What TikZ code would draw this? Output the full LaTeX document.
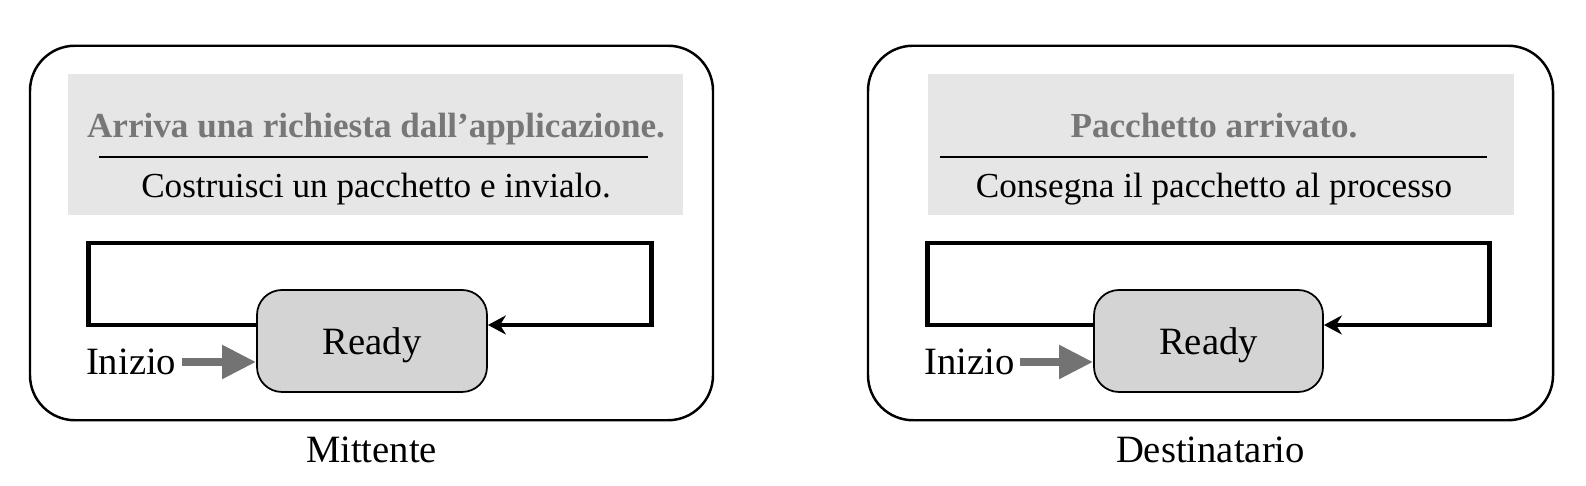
\documentclass[tikz,border=0pt]{standalone}
\usepackage{fontspec}
\setmainfont{Liberation Serif}
\usetikzlibrary{positioning,arrows.meta}

\definecolor{panelgray}{HTML}{E6E6E6}
\definecolor{stategray}{HTML}{D4D4D4}
\definecolor{titlegray}{HTML}{777777}
\definecolor{startgray}{HTML}{737373}

\tikzset{
  sysbox/.style={draw, line width=0.7pt, rounded corners=4.5mm, minimum width=6.83cm, minimum height=3.745cm},
  panelbox/.style={fill=panelgray, minimum height=1.41cm, inner sep=0},
  condtext/.style={font=\fontsize{10}{12}\selectfont\bfseries, text=titlegray, anchor=base, inner sep=0},
  acttext/.style={font=\fontsize{10}{12}\selectfont, anchor=base, inner sep=0},
  statebox/.style={draw, fill=stategray, line width=0.5pt, rounded corners=2.5mm, minimum width=2.3cm, minimum height=1.02cm, text depth=0pt, font=\fontsize{11}{13}\selectfont},
  looppath/.style={line width=1.4pt, -{Stealth[length=1.8mm,width=1.9mm]}},
  startarrow/.style={startgray, line width=2.3pt, -{Triangle[length=3.4mm,width=3.2mm]}},
  lbl/.style={font=\fontsize{11}{13}\selectfont, inner sep=0},
}

\begin{document}
\begin{tikzpicture}
  \useasboundingbox (0,0) rectangle (15.86,4.86);
  % Mittente
  \node[sysbox] (sysA) at (3.715,2.53) {};
  \node[panelbox, minimum width=6.15cm] (panA) at (3.755,3.415) {};
  \node[condtext] (condA) at (3.76,3.48) {Arriva una richiesta dall’applicazione.};
  \node[acttext] (actA) at (3.76,2.88) {Costruisci un pacchetto e invialo.};
  \draw[line width=0.5pt] (0.99,3.29) -- (6.48,3.29);
  \node[statebox] (rdyA) at (3.72,1.45) {Ready};
  \draw[looppath] ([yshift=1.6mm]rdyA.west) -- ++(-1.68,0) -- ++(0,0.82) -- ++(5.63,0) |- ([yshift=1.6mm]rdyA.east);
  \node[lbl, anchor=east] (iniA) at (1.77,1.24) {Inizio};
  \draw[startarrow] ([xshift=0.5mm]iniA.east) -- (iniA.east -| rdyA.west);
  \node[lbl, below=1.5mm of sysA] (capA) {Mittente};
  % Destinatario
  \node[sysbox, minimum width=6.85cm] (sysB) at (12.105,2.53) {};
  \node[panelbox, minimum width=5.86cm] (panB) at (12.21,3.415) {};
  \node[condtext] (condB) at (12.14,3.48) {Pacchetto arrivato.};
  \node[acttext] (actB) at (12.14,2.88) {Consegna il pacchetto al processo};
  \draw[line width=0.5pt] (9.40,3.29) -- (14.87,3.29);
  \node[statebox, minimum width=2.29cm] (rdyB) at (12.085,1.45) {Ready};
  \draw[looppath] ([yshift=1.6mm]rdyB.west) -- ++(-1.66,0) -- ++(0,0.82) -- ++(5.62,0) |- ([yshift=1.6mm]rdyB.east);
  \node[lbl, anchor=east] (iniB) at (10.15,1.24) {Inizio};
  \draw[startarrow] ([xshift=0.5mm]iniB.east) -- (iniB.east -| rdyB.west);
  \node[lbl, below=1.5mm of sysB] (capB) {Destinatario};
\end{tikzpicture}
\end{document}
